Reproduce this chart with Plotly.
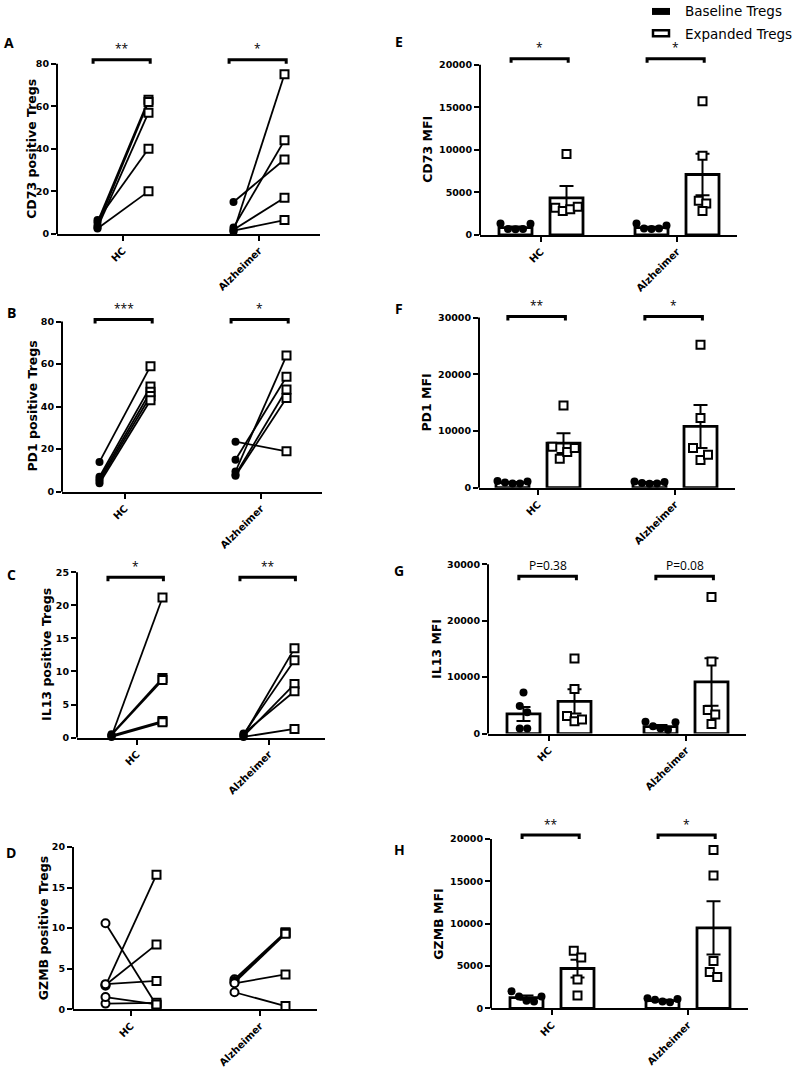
import plotly.graph_objects as go

W, H = 800, 1075
GROUPS = ["HC", "Alzheimer"]

# ---------------- Left column: paired % positive Tregs ----------------
A_hc_base = [5.5, 4.0, 3.0, 6.5, 2.5]
A_hc_exp = [63.0, 62.0, 57.0, 40.0, 20.0]
A_alz_base = [1.0, 3.0, 15.0, 2.0, 1.5]
A_alz_exp = [75.0, 44.0, 35.0, 17.0, 6.5]

B_hc_base = [14.0, 7.0, 6.0, 5.0, 4.0]
B_hc_exp = [59.0, 49.5, 47.0, 45.0, 43.0]
B_alz_base = [23.5, 15.0, 9.5, 8.0, 7.5]
B_alz_exp = [19.0, 54.0, 64.0, 48.0, 44.0]

C_hc_base = [0.2, 0.5, 0.4, 0.3, 0.1]
C_hc_exp = [21.2, 9.0, 8.7, 2.5, 2.3]
C_alz_base = [0.3, 0.5, 0.2, 0.6, 0.1]
C_alz_exp = [13.5, 11.7, 8.1, 7.0, 1.3]

D_hc_base = [10.6, 2.9, 3.0, 3.1, 0.7, 1.5]
D_hc_exp = [0.5, 16.6, 8.0, 3.5, 0.8, 0.6]
D_alz_base = [3.7, 3.5, 3.3, 3.2, 2.1]
D_alz_exp = [9.5, 9.4, 9.3, 4.3, 0.4]

# ---------------- Right column: MFI (bars = mean, error = SEM) ----------------
E_hc_base = [1350, 700, 650, 700, 1300]
E_hc_exp = [9500, 3200, 2800, 3000, 3300]
E_alz_base = [1350, 750, 700, 750, 1100]
E_alz_exp = [15700, 9300, 4000, 3700, 2800]
E_mean_base = [860, 850]
E_sem_base = [120, 120]
E_mean_exp = [4350, 7100]
E_sem_exp = [1400, 2450]

F_hc_base = [1200, 900, 750, 750, 1100]
F_hc_exp = [14500, 7200, 5100, 6300, 7000]
F_alz_base = [1100, 850, 700, 750, 1000]
F_alz_exp = [25200, 12300, 7000, 4900, 5800]
F_mean_base = [900, 880]
F_sem_base = [100, 100]
F_mean_exp = [7850, 10800]
F_sem_exp = [1750, 3800]

G_hc_base = [7300, 4900, 3800, 900, 900]
G_hc_exp = [13300, 7900, 3100, 2200, 2500]
G_alz_base = [2100, 1300, 900, 700, 2000]
G_alz_exp = [24200, 12800, 4200, 3400, 1700]
G_mean_base = [3480, 1230]
G_sem_base = [1250, 300]
G_mean_exp = [5700, 9150]
G_sem_exp = [2150, 4200]

H_hc_base = [2000, 1400, 900, 800, 1400]
H_hc_exp = [6800, 6000, 3400, 1500]
H_alz_base = [1200, 1000, 800, 700, 1100]
H_alz_exp = [18700, 15700, 5600, 4300, 3700]
H_mean_base = [1250, 900]
H_sem_base = [250, 100]
H_mean_exp = [4700, 9500]
H_sem_exp = [1050, 3150]

Y_TITLES = {
    "A": "CD73 positive Tregs", "B": "PD1 positive Tregs",
    "C": "IL13 positive Tregs", "D": "GZMB positive Tregs",
    "E": "CD73 MFI", "F": "PD1 MFI", "G": "IL13 MFI", "H": "GZMB MFI",
}
SIG = {
    "A": ["**", "*"], "B": ["***", "*"], "C": ["*", "**"], "D": None,
    "E": ["*", "*"], "F": ["**", "*"], "G": ["P=0.38", "P=0.08"], "H": ["**", "*"],
}
Y_TICKS = {
    "A": [0, 20, 40, 60, 80], "B": [0, 20, 40, 60, 80],
    "C": [0, 5, 10, 15, 20, 25], "D": [0, 5, 10, 15, 20],
    "E": [0, 5000, 10000, 15000, 20000], "F": [0, 10000, 20000, 30000],
    "G": [0, 10000, 20000, 30000], "H": [0, 5000, 10000, 15000, 20000],
}
BRACKET_LEVEL = {"A": 81.9, "B": 80.9, "C": 24.25, "E": 20700, "F": 30175,
                 "G": 27900, "H": 20470}

# ---------------- layout geometry (page pixels) ----------------
GEOM = {
    #      x0    x1   hc   alz   y0(zero) ytop(top tick) title_x letter(x,y)
    "A": (57, 320, 123, 259, 235, 64, 32, (9, 43)),
    "B": (62, 322, 125, 261, 494, 323, 33, (11, 314)),
    "C": (77, 325, 137, 269, 741, 575, 47, (11, 577)),
    "D": (73, 317, 131, 260, 1014, 851, 43, (11, 856)),
    "E": (480, 737, 541, 677, 236, 65, 428, (399, 42)),
    "F": (479, 735, 538, 675, 490, 319, 427, (399, 310)),
    "G": (488, 746, 549, 686, 737, 567, 437, (399, 573)),
    "H": (491, 748, 552, 688, 1013, 843, 439, (399, 853)),
}
OFF_PX = 25.5
BAR_PX = 33
SWARM_PX = 7.5


def px(x):
    return x / W


def py(y):
    return 1 - y / H


TICKFONT_Y = dict(family="DejaVu Sans", size=9.5, color="black", weight="bold")
TICKFONT_X = dict(family="DejaVu Sans", size=10, color="black", weight="bold")
TITLEFONT = dict(family="DejaVu Sans", size=12.5, color="black", weight="bold")
SIGFONT = dict(family="Open Sans", size=12, color="black")

fig = go.Figure()
shapes = []
annotations = []
layout_axes = {}


def swarm(values, center, px_per_unit, step, thresh_px=7.0):
    order = sorted(range(len(values)), key=lambda i: values[i])
    clusters = []
    for i in order:
        if clusters and (values[i] - values[clusters[-1][-1]]) * px_per_unit < thresh_px:
            clusters[-1].append(i)
        else:
            clusters.append([i])
    xs = [center] * len(values)
    for c in clusters:
        c = sorted(c)
        n = len(c)
        for k, i in enumerate(c):
            xs[i] = center + (k - (n - 1) / 2) * step
    return xs


PANEL_DATA = {
    "A": (A_hc_base, A_hc_exp, A_alz_base, A_alz_exp),
    "B": (B_hc_base, B_hc_exp, B_alz_base, B_alz_exp),
    "C": (C_hc_base, C_hc_exp, C_alz_base, C_alz_exp),
    "D": (D_hc_base, D_hc_exp, D_alz_base, D_alz_exp),
    "E": (E_hc_base, E_hc_exp, E_alz_base, E_alz_exp),
    "F": (F_hc_base, F_hc_exp, F_alz_base, F_alz_exp),
    "G": (G_hc_base, G_hc_exp, G_alz_base, G_alz_exp),
    "H": (H_hc_base, H_hc_exp, H_alz_base, H_alz_exp),
}
BAR_DATA = {
    "E": (E_mean_base, E_sem_base, E_mean_exp, E_sem_exp),
    "F": (F_mean_base, F_sem_base, F_mean_exp, F_sem_exp),
    "G": (G_mean_base, G_sem_base, G_mean_exp, G_sem_exp),
    "H": (H_mean_base, H_sem_base, H_mean_exp, H_sem_exp),
}

for n, key in enumerate("ABCDEFGH", start=1):
    x0, x1, hc, alz, y0, yt, tx, (lx, ly) = GEOM[key]
    xn = "x" if n == 1 else f"x{n}"
    yn = "y" if n == 1 else f"y{n}"
    s = alz - hc
    dom_top = yt - 16
    ticks = Y_TICKS[key]
    ytop_val = ticks[-1]
    ymax = ytop_val * (y0 - dom_top) / (y0 - yt)
    px_per_unit = (y0 - yt) / ytop_val
    off = OFF_PX / s

    layout_axes["xaxis" if n == 1 else f"xaxis{n}"] = dict(
        domain=[px(x0), px(x1)], range=[(x0 - hc) / s, (x1 - hc) / s],
        showline=True, linecolor="black", linewidth=2, ticks="outside",
        ticklen=5, tickwidth=2, tickcolor="black", tickvals=[0, 1],
        ticktext=GROUPS, tickangle=-45, tickfont=TICKFONT_X, showgrid=False,
        zeroline=False, anchor=yn, fixedrange=True)
    layout_axes["yaxis" if n == 1 else f"yaxis{n}"] = dict(
        domain=[py(y0), py(dom_top)], range=[0, ymax],
        showline=False, ticks="outside", ticklen=5, tickwidth=2,
        tickcolor="black", tickvals=ticks, ticktext=[str(t) for t in ticks],
        tickfont=TICKFONT_Y, showgrid=False, zeroline=False, anchor=xn,
        fixedrange=True)

    frac_top = (y0 - yt) / (y0 - dom_top)
    # y-axis line from 0 to the top tick
    shapes.append(dict(type="line", xref=f"{xn} domain", yref=f"{yn} domain",
                       x0=0, x1=0, y0=0, y1=frac_top,
                       line=dict(color="black", width=2)))

    hc_b, hc_e, alz_b, alz_e = PANEL_DATA[key]

    if key in "ABCD":
        lx_, ly_ = [], []
        for gi, (bv, ev) in enumerate([(hc_b, hc_e), (alz_b, alz_e)]):
            for b, e in zip(bv, ev):
                lx_ += [gi - off, gi + off, None]
                ly_ += [b, e, None]
        fig.add_trace(go.Scatter(x=lx_, y=ly_, mode="lines",
                                 line=dict(color="black", width=1.8),
                                 xaxis=xn, yaxis=yn, hoverinfo="skip",
                                 cliponaxis=False))
        bx = [0 - off] * len(hc_b) + [1 - off] * len(alz_b)
        ex = [0 + off] * len(hc_e) + [1 + off] * len(alz_e)
        if key == "D":
            bmarker = dict(symbol="circle", size=8, color="white",
                           line=dict(color="black", width=2))
        else:
            bmarker = dict(symbol="circle", size=8, color="black",
                           line=dict(color="black", width=0))
        fig.add_trace(go.Scatter(x=bx, y=hc_b + alz_b, mode="markers",
                                 marker=bmarker, xaxis=xn, yaxis=yn,
                                 cliponaxis=False))
        fig.add_trace(go.Scatter(x=ex, y=hc_e + alz_e, mode="markers",
                                 marker=dict(symbol="square", size=8,
                                             color="white",
                                             line=dict(color="black", width=2)),
                                 xaxis=xn, yaxis=yn, cliponaxis=False))
    else:
        mb, sb, me, se = BAR_DATA[key]
        bw = BAR_PX / s
        for xs_c, means, sems in [([0 - off, 1 - off], mb, sb),
                                  ([0 + off, 1 + off], me, se)]:
            fig.add_trace(go.Bar(
                x=xs_c, y=means, width=[bw, bw], xaxis=xn, yaxis=yn,
                marker=dict(color="white", line=dict(color="black", width=2.8)),
                error_y=dict(type="data", array=sems, visible=True,
                             color="black", thickness=2, width=7)))
        step = SWARM_PX / s
        bpx = (swarm(hc_b, 0 - off, px_per_unit, step)
               + swarm(alz_b, 1 - off, px_per_unit, step))
        epx = (swarm(hc_e, 0 + off, px_per_unit, step)
               + swarm(alz_e, 1 + off, px_per_unit, step))
        fig.add_trace(go.Scatter(x=bpx, y=hc_b + alz_b, mode="markers",
                                 marker=dict(symbol="circle", size=8,
                                             color="black"),
                                 xaxis=xn, yaxis=yn, cliponaxis=False))
        fig.add_trace(go.Scatter(x=epx, y=hc_e + alz_e, mode="markers",
                                 marker=dict(symbol="square", size=8,
                                             color="white",
                                             line=dict(color="black", width=2)),
                                 xaxis=xn, yaxis=yn, cliponaxis=False))

    # significance brackets
    if SIG[key]:
        lvl = BRACKET_LEVEL[key]
        drop = 4 / px_per_unit
        for gi, label in enumerate(SIG[key]):
            bx0, bx1 = gi - 0.22, gi + 0.2
            shapes.append(dict(
                type="path", xref=xn, yref=yn,
                path=f"M {bx0} {lvl - drop} L {bx0} {lvl} L {bx1} {lvl} L {bx1} {lvl - drop}",
                line=dict(color="black", width=3)))
            annotations.append(dict(
                x=(bx0 + bx1) / 2, y=lvl, xref=xn, yref=yn, text=label,
                showarrow=False, yshift=11, font=SIGFONT, yanchor="middle"))

    # y title
    annotations.append(dict(
        x=px(tx), y=frac_top / 2, xref="paper", yref=f"{yn} domain",
        text=Y_TITLES[key], textangle=-90, showarrow=False, font=TITLEFONT,
        xanchor="center", yanchor="middle"))
    # panel letter
    annotations.append(dict(
        x=px(lx), y=py(ly), xref="paper", yref="paper", text=key,
        showarrow=False, xanchor="center", yanchor="middle",
        font=dict(family="Open Sans", size=14, color="black", weight="bold")))

# legend (manual)
shapes.append(dict(type="rect", xref="paper", yref="paper",
                   x0=px(652), x1=px(670), y0=py(15), y1=py(8),
                   fillcolor="black", line=dict(color="black", width=0)))
shapes.append(dict(type="rect", xref="paper", yref="paper",
                   x0=px(653), x1=px(669), y0=py(36.5), y1=py(30.5),
                   fillcolor="white", line=dict(color="black", width=2.5)))
for txt, yy in [("Baseline Tregs", 11), ("Expanded Tregs", 34)]:
    annotations.append(dict(x=px(683), y=py(yy), xref="paper", yref="paper",
                            text=txt, showarrow=False, xanchor="left",
                            yanchor="middle",
                            font=dict(family="DejaVu Sans", size=13.5,
                                      color="black")))

fig.update_layout(
    width=W, height=H, margin=dict(l=0, r=0, t=0, b=0),
    paper_bgcolor="white", plot_bgcolor="white", showlegend=False,
    barmode="overlay", shapes=shapes, annotations=annotations, **layout_axes)

# remove the browser's default 8px body margin so the figure fills the window exactly
fig.write_html("out.html",
               config={"displayModeBar": False},
               post_script="document.body.style.margin='0';document.body.style.overflow='hidden';")
